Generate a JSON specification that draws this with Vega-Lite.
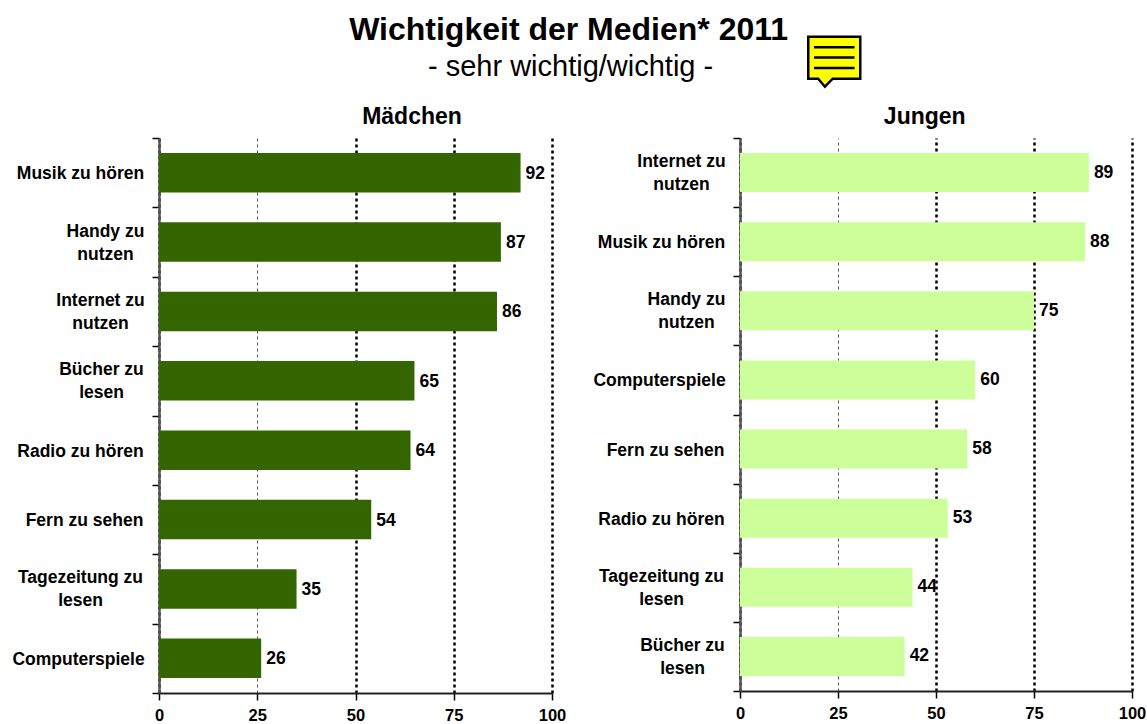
{
"$schema":"https://vega.github.io/schema/vega-lite/v6.json",
"autosize":{"type":"pad"},
"padding":{"left":11,"top":0,"right":0,"bottom":0},
"bounds":"flush",
"spacing":0,
"background":"white",
"config":{"view":{"stroke":null},"font":"Liberation Sans","concat":{"spacing":0}},
"vconcat":[
{"width":973,"height":138,
 "layer":[
 {"data":{"values":[{"t":"Wichtigkeit der Medien* 2011","px":42.1,"py":78.5}]},"mark":{"type":"text","font":"Liberation Sans","fontWeight":"bold","fontSize":32,"align":"center","baseline":"middle"},"encoding":{"x":{"field":"px","type":"quantitative","scale":{"domain":[0,100]},"axis":null},"y":{"field":"py","type":"quantitative","scale":{"domain":[0,100]},"axis":null},"text":{"field":"t"}}},
 {"data":{"values":[{"t":"- sehr wichtig/wichtig -","px":42.3,"py":51.5}]},"mark":{"type":"text","font":"Liberation Sans","fontSize":29,"align":"center","baseline":"middle"},"encoding":{"x":{"field":"px","type":"quantitative","scale":{"domain":[0,100]},"axis":null},"y":{"field":"py","type":"quantitative","scale":{"domain":[0,100]},"axis":null},"text":{"field":"t"}}},
 {"data":{"values":[{"t":"Mädchen","px":26.0,"py":15.5},{"t":"Jungen","px":78.7,"py":15.5}]},"mark":{"type":"text","font":"Liberation Sans","fontWeight":"bold","fontSize":23,"align":"center","baseline":"middle"},"encoding":{"x":{"field":"px","type":"quantitative","scale":{"domain":[0,100]},"axis":null},"y":{"field":"py","type":"quantitative","scale":{"domain":[0,100]},"axis":null},"text":{"field":"t"}}},
 {"data":{"values":[{"px":69.4,"py":56}]},"mark":{"type":"point","filled":true,"fill":"#FFFF00","stroke":"black","strokeWidth":2.5,"opacity":1,"size":2704,"shape":"M-1,-0.92 L1,-0.92 L1,0.69 L-0.06,0.69 L-0.36,1.0 L-0.62,0.69 L-1,0.69 Z M-0.78,-0.52 L0.78,-0.52 M-0.78,-0.12 L0.78,-0.12 M-0.78,0.28 L0.78,0.28"},"encoding":{"x":{"field":"px","type":"quantitative","scale":{"domain":[0,100]},"axis":null},"y":{"field":"py","type":"quantitative","scale":{"domain":[0,100]},"axis":null}}}
 ]},
{"bounds":"flush","hconcat":[
 {"width":393,"height":555,
  "data":{"values":[
   {"medium":"Musik zu hören","wert":92},{"medium":"Handy zu|nutzen","wert":87},{"medium":"Internet zu|nutzen","wert":86},{"medium":"Bücher zu|lesen","wert":65},{"medium":"Radio zu hören","wert":64},{"medium":"Fern zu sehen","wert":54},{"medium":"Tagezeitung zu|lesen","wert":35},{"medium":"Computerspiele","wert":26}]},
  "encoding":{"y":{"field":"medium","type":"nominal","sort":null,"scale":{"paddingInner":0,"paddingOuter":0},
    "axis":{"title":null,"tickBand":"extent","grid":false,"domainColor":"#555555","domainWidth":2.5,"tickColor":"black","tickWidth":1.5,"tickSize":7,"labelPadding":7,"labelFont":"Liberation Sans","labelFontWeight":"bold","labelFontSize":17.5,"labelColor":"black","labelAlign":"center","labelLineHeight":23,"labelLimit":0,"labelExpr":"split(datum.label,'|')",
     "encoding":{"labels":{"dx":{"value":{"expr":"-({'Musik zu hören':65,'Handy zu|nutzen':40,'Internet zu|nutzen':45,'Bücher zu|lesen':44,'Radio zu hören':65,'Fern zu sehen':61,'Tagezeitung zu|lesen':65,'Computerspiele':67})[datum.value]"}},"dy":{"value":{"expr":"({'Musik zu hören':1,'Handy zu|nutzen':-11,'Internet zu|nutzen':-11,'Bücher zu|lesen':-11,'Radio zu hören':1,'Fern zu sehen':1,'Tagezeitung zu|lesen':-11,'Computerspiele':1})[datum.value]"}}}}}}},
  "layer":[
   {"mark":{"type":"bar","color":"#336600","height":{"band":0.57}},"encoding":{"x":{"field":"wert","type":"quantitative","scale":{"domain":[0,100]},
     "axis":{"title":null,"values":[0,25,50,75,100],"grid":true,"gridColor":{"condition":{"test":"datum.value==25","value":"#555555"},"value":"black"},"gridWidth":{"condition":{"test":"datum.value==25","value":1},"value":2.5},"gridDash":[3,3],"domainColor":"#222222","domainWidth":2,"tickColor":"black","tickWidth":1.5,"tickSize":7,"labelPadding":7.5,"labelFont":"Liberation Sans","labelFontWeight":"bold","labelFontSize":16.5,"labelColor":"black","labelFlush":false}}}},
   {"mark":{"type":"text","font":"Liberation Sans","fontWeight":"bold","fontSize":17.5,"align":"left","dx":5,"dy":1,"color":"black"},"encoding":{"x":{"field":"wert","type":"quantitative"},"text":{"field":"wert","type":"quantitative"}}}
  ]},
 {"width":392,"height":553,
  "data":{"values":[
   {"medium":"Internet zu|nutzen","wert":89},{"medium":"Musik zu hören","wert":88},{"medium":"Handy zu|nutzen","wert":75},{"medium":"Computerspiele","wert":60},{"medium":"Fern zu sehen","wert":58},{"medium":"Radio zu hören","wert":53},{"medium":"Tagezeitung zu|lesen","wert":44},{"medium":"Bücher zu|lesen","wert":42}]},
  "encoding":{"y":{"field":"medium","type":"nominal","sort":null,"scale":{"paddingInner":0,"paddingOuter":0},
    "axis":{"title":null,"tickBand":"extent","grid":false,"domainColor":"#555555","domainWidth":2.5,"tickColor":"black","tickWidth":1.5,"tickSize":7,"labelPadding":7,"labelFont":"Liberation Sans","labelFontWeight":"bold","labelFontSize":17.5,"labelColor":"black","labelAlign":"center","labelLineHeight":23,"labelLimit":0,"labelExpr":"split(datum.label,'|')",
     "encoding":{"labels":{"dx":{"value":{"expr":"-({'Musik zu hören':65,'Handy zu|nutzen':40,'Internet zu|nutzen':45,'Bücher zu|lesen':44,'Radio zu hören':65,'Fern zu sehen':61,'Tagezeitung zu|lesen':65,'Computerspiele':67})[datum.value]"}},"dy":{"value":{"expr":"({'Musik zu hören':1,'Handy zu|nutzen':-11,'Internet zu|nutzen':-11,'Bücher zu|lesen':-11,'Radio zu hören':1,'Fern zu sehen':1,'Tagezeitung zu|lesen':-11,'Computerspiele':1})[datum.value]"}}}}}}},
  "layer":[
   {"mark":{"type":"bar","color":"#CCFF99","height":{"band":0.565}},"encoding":{"x":{"field":"wert","type":"quantitative","scale":{"domain":[0,100]},
     "axis":{"title":null,"values":[0,25,50,75,100],"grid":true,"gridColor":{"condition":{"test":"datum.value==25","value":"#555555"},"value":"black"},"gridWidth":{"condition":{"test":"datum.value==25","value":1},"value":2.5},"gridDash":[3,3],"domainColor":"#222222","domainWidth":2,"tickColor":"black","tickWidth":1.5,"tickSize":7,"labelPadding":7.5,"labelFont":"Liberation Sans","labelFontWeight":"bold","labelFontSize":16.5,"labelColor":"black","labelFlush":false}}}},
   {"mark":{"type":"text","font":"Liberation Sans","fontWeight":"bold","fontSize":17.5,"align":"left","dx":5,"color":"black"},"encoding":{"x":{"field":"wert","type":"quantitative"},"text":{"field":"wert","type":"quantitative"}}}
  ]}
 ],"spacing":188}
]}
